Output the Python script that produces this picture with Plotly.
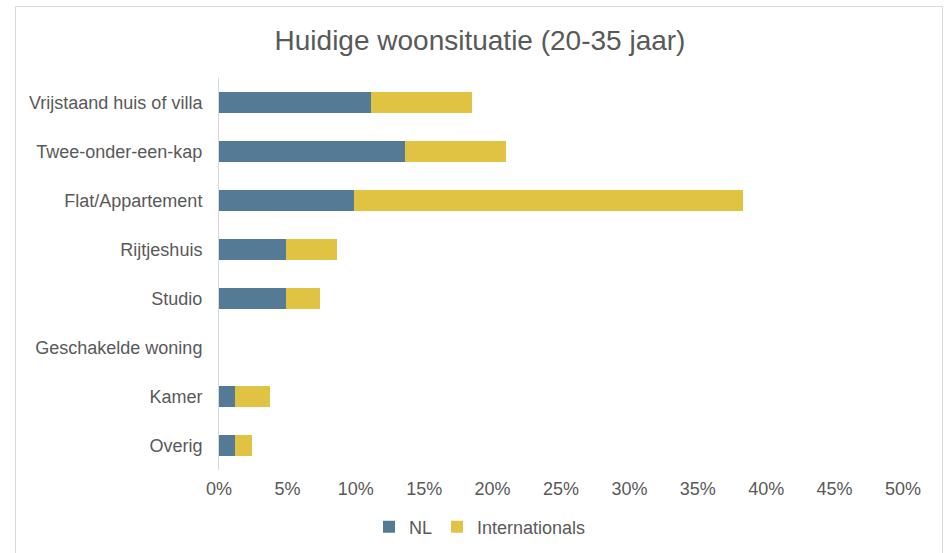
import plotly.graph_objects as go

categories = ["Vrijstaand huis of villa", "Twee-onder-een-kap", "Flat/Appartement",
              "Rijtjeshuis", "Studio", "Geschakelde woning", "Kamer", "Overig"]
nl_values = [11.1, 13.6, 9.9, 4.9, 4.9, 0.0, 1.2, 1.2]
intl_values = [7.4, 7.4, 28.4, 3.7, 2.5, 0.0, 2.5, 1.2]
x_ticks = [0, 5, 10, 15, 20, 25, 30, 35, 40, 45, 50]
x_tick_labels = [f"{v}%" for v in x_ticks]

BLUE = "#557A95"
YELLOW = "#E1C344"
TXT = "#595959"
FONT = "Liberation Sans, Arial, sans-serif"

fig = go.Figure()
fig.add_trace(go.Bar(y=categories, x=nl_values, name="NL", orientation="h",
                     marker=dict(color=BLUE, line=dict(width=0))))
fig.add_trace(go.Bar(y=categories, x=intl_values, name="Internationals", orientation="h",
                     marker=dict(color=YELLOW, line=dict(width=0))))

L, R, T, B = 219, 47, 78, 83
W, H = 950, 553
pw, ph = W - L - R, H - T - B

def px_x(p):
    return (p - L) / pw

def px_y(p):
    return (H - B - p) / ph

fig.update_layout(
    width=W, height=H,
    barmode="stack", bargap=0.57,
    paper_bgcolor="white", plot_bgcolor="white",
    margin=dict(l=L, r=R, t=T, b=B, autoexpand=False),
    font=dict(family=FONT, size=18, color=TXT),
    title=dict(text="Huidige woonsituatie (20-35 jaar)", x=480 / W, xanchor="center",
               y=1 - 40 / H, yanchor="middle",
               font=dict(size=28, color=TXT, family=FONT)),
    xaxis=dict(range=[0, 50], tickvals=x_ticks, ticktext=x_tick_labels, showgrid=False,
               zeroline=False, showline=False, ticks="", fixedrange=True, automargin=False,
               ticklabelstandoff=6, tickfont=dict(size=18, color=TXT)),
    yaxis=dict(autorange="reversed", showgrid=False, zeroline=False, showline=True,
               linecolor="#D9D9D9", linewidth=1, ticks="", ticklabelstandoff=12,
               automargin=False, fixedrange=True, tickfont=dict(size=18, color=TXT)),
    legend=dict(orientation="h", xref="container", yref="container",
                x=480 / W, xanchor="center", y=1 - 527 / H, yanchor="middle",
                font=dict(size=18, color=TXT), traceorder="normal", itemwidth=30),
    showlegend=True,
    shapes=[dict(type="rect", xref="paper", yref="paper",
                 x0=px_x(15.5), x1=px_x(942.5), y0=px_y(600), y1=px_y(6.5),
                 line=dict(color="#D9D9D9", width=1), fillcolor="rgba(0,0,0,0)", layer="below")],
)

fig.write_html("out.html", config={"displayModeBar": False},
               post_script="document.body.style.margin='0';")
